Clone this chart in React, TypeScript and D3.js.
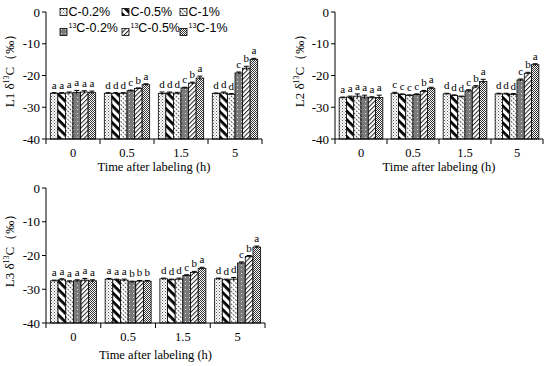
import React from "react";
import * as d3 from "d3";

const times = ["0", "0.5", "1.5", "5"];
const seriesNames = ["C-0.2%", "C-0.5%", "C-1%", "13C-0.2%", "13C-0.5%", "13C-1%"];
const yTicks = [0, -10, -20, -30, -40];

// values[series][time]
const L1 = [
  [-25.6, -25.6, -25.7, -25.7],
  [-25.6, -25.6, -25.5, -25.5],
  [-25.5, -25.6, -25.6, -25.9],
  [-25.3, -24.8, -23.9, -19.2],
  [-25.2, -24.1, -22.4, -17.7],
  [-25.4, -22.9, -20.8, -14.9],
];
const L1err = [
  [0.2, 0.2, 0.5, 0.2],
  [0.2, 0.2, 0.3, 0.3],
  [0.3, 0.2, 0.3, 0.2],
  [0.6, 0.2, 0.2, 0.3],
  [0.4, 0.2, 0.3, 0.6],
  [0.5, 0.3, 0.6, 0.3],
];
const L1letters = [
  ["a", "a", "a", "a", "a", "a"],
  ["d", "d", "d", "c", "b", "a"],
  ["d", "d", "d", "c", "b", "a"],
  ["d", "d", "d", "c", "b", "a"],
];

const L2 = [
  [-27.0, -25.6, -25.8, -25.8],
  [-26.8, -26.0, -26.3, -25.8],
  [-26.5, -26.3, -26.7, -26.0],
  [-26.8, -26.0, -24.8, -21.4],
  [-27.0, -25.0, -23.6, -19.3],
  [-26.9, -24.0, -21.9, -16.6],
];
const L2err = [
  [0.2, 0.3, 0.2, 0.2],
  [0.3, 0.2, 0.2, 0.2],
  [0.7, 0.2, 0.2, 0.3],
  [0.6, 0.2, 0.3, 0.3],
  [0.3, 0.3, 0.4, 0.3],
  [0.7, 0.3, 0.7, 0.3],
];
const L2letters = [
  ["a", "a", "a", "a", "a", "a"],
  ["c", "c", "c", "c", "b", "a"],
  ["d", "d", "d", "c", "b", "a"],
  ["d", "d", "d", "c", "b", "a"],
];

const L3 = [
  [-27.5, -27.0, -26.9, -26.9],
  [-27.2, -27.2, -27.2, -27.2],
  [-27.8, -27.3, -27.0, -27.0],
  [-27.5, -27.8, -25.9, -22.2],
  [-27.3, -27.6, -25.0, -20.3],
  [-27.5, -27.6, -23.8, -17.5],
];
const L3err = [
  [0.2, 0.2, 0.2, 0.2],
  [0.3, 0.2, 0.2, 0.2],
  [0.3, 0.3, 0.3, 0.5],
  [0.3, 0.2, 0.2, 0.3],
  [0.5, 0.2, 0.3, 0.3],
  [0.3, 0.2, 0.3, 0.3],
];
const L3letters = [
  ["a", "a", "a", "a", "a", "a"],
  ["a", "a", "a", "b", "b", "b"],
  ["d", "d", "d", "c", "b", "a"],
  ["d", "d", "d", "c", "b", "a"],
];

const patIds = ["pDots", "pThick", "pFine", "pGray", "pSlash", "pCheck"];
const SERIF = "'Liberation Serif', 'DejaVu Serif', serif";
const SANS = "'Liberation Sans', 'Open Sans', sans-serif";

function Patterns() {
  return (
    <defs>
      <pattern id="pDots" width="3" height="3" patternUnits="userSpaceOnUse">
        <rect width="3" height="3" fill="#fff" />
        <rect x="0" y="0" width="1" height="1" fill="#555" />
        <rect x="1.5" y="1.5" width="1" height="1" fill="#777" />
      </pattern>
      <pattern id="pThick" width="6" height="6" patternUnits="userSpaceOnUse" patternTransform="rotate(45)">
        <rect width="6" height="6" fill="#fff" />
        <rect x="0" y="0" width="6" height="2.8" fill="#000" />
      </pattern>
      <pattern id="pFine" width="3" height="3" patternUnits="userSpaceOnUse" patternTransform="rotate(45)">
        <rect width="3" height="3" fill="#fff" />
        <rect x="0" y="0" width="2" height="0.9" fill="#444" />
      </pattern>
      <pattern id="pGray" width="4" height="4" patternUnits="userSpaceOnUse">
        <rect width="4" height="4" fill="#7a7a7a" />
        <rect x="1" y="1" width="1" height="1" fill="#ddd" />
      </pattern>
      <pattern id="pSlash" width="3.2" height="3.2" patternUnits="userSpaceOnUse" patternTransform="rotate(-45)">
        <rect width="3.2" height="3.2" fill="#fff" />
        <rect x="0" y="0" width="3.2" height="1" fill="#222" />
      </pattern>
      <pattern id="pCheck" width="2" height="2" patternUnits="userSpaceOnUse">
        <rect width="2" height="2" fill="#fff" />
        <rect x="0" y="0" width="1" height="1" fill="#333" />
        <rect x="1" y="1" width="1" height="1" fill="#333" />
      </pattern>
    </defs>
  );
}

type PanelProps = {
  x0: number; x1: number; y0: number; y1: number;
  values: number[][]; errs: number[][]; letters: string[][];
  label: string; labelX: number; tickY: number; titleY: number;
};

function Panel({ x0, x1, y0, y1, values, errs, letters, label, labelX, tickY, titleY }: PanelProps) {
  const y = d3.scaleLinear().domain([-40, 0]).range([y1, y0]);
  const gx = d3.scaleBand<string>().domain(times).range([x0, x1]).paddingInner(0).paddingOuter(0);
  const bw = gx.bandwidth();
  const inset = bw * 0.08;
  const sx = d3.scaleBand<number>().domain(d3.range(seriesNames.length)).range([inset, bw - inset]).padding(0);
  const w = sx.bandwidth();
  const bars: any[] = [];
  const errEls: any[] = [];
  const lets: any[] = [];
  times.forEach((t, ti) => {
    seriesNames.forEach((s, si) => {
      const v = values[si][ti];
      const e = errs[si][ti];
      const bx = (gx(t) as number) + (sx(si) as number);
      bars.push(
        <rect key={`b${ti}-${si}`} x={bx} y={y(v)} width={w} height={y(-40) - y(v)}
          fill={`url(#${patIds[si]})`} stroke="#000" strokeWidth={0.8} />
      );
      const cx = bx + w / 2;
      errEls.push(
        <g key={`e${ti}-${si}`} stroke="#000" strokeWidth={1}>
          <line x1={cx} x2={cx} y1={y(v - e)} y2={y(v + e)} />
          <line x1={cx - 2.5} x2={cx + 2.5} y1={y(v + e)} y2={y(v + e)} />
        </g>
      );
      lets.push(
        <text key={`l${ti}-${si}`} x={cx} y={y(v + e) - 4} textAnchor="middle"
          fontFamily={SERIF} fontSize={11} fill="#000">{letters[ti][si]}</text>
      );
    });
  });
  const yc = (y0 + y1) / 2;
  return (
    <g>
      {bars}
      {errEls}
      {lets}
      <line x1={x0} x2={x0} y1={y0} y2={y1} stroke="#000" />
      <line x1={x0} x2={x1} y1={y1} y2={y1} stroke="#000" />
      {yTicks.map((t) => (
        <g key={`yt${t}`}>
          <line x1={x0 - 4} x2={x0} y1={y(t)} y2={y(t)} stroke="#000" />
          <text x={x0 - 6} y={y(t)} dy="0.35em" textAnchor="end" fontFamily={SERIF} fontSize={13}>{t}</text>
        </g>
      ))}
      {times.concat(["end"]).map((t, i) => {
        const xx = i < times.length ? (gx(t) as number) : x1;
        return <line key={`xt${i}`} x1={xx} x2={xx} y1={y1} y2={y1 + 5} stroke="#000" />;
      })}
      {times.map((t) => (
        <text key={`xl${t}`} x={(gx(t) as number) + bw / 2} y={tickY} textAnchor="middle"
          fontFamily={SERIF} fontSize={12.5}>{t}</text>
      ))}
      <text x={(x0 + x1) / 2} y={titleY} textAnchor="middle" fontFamily={SERIF} fontSize={12.5}>
        Time after labeling (h)
      </text>
      <text transform={`translate(${labelX},${yc - 8}) rotate(-90)`} textAnchor="middle"
        fontFamily={SERIF} fontSize={13}>
        {label} δ<tspan fontSize={8} dy={-5}>13</tspan><tspan dy={5}>C（‰）</tspan>
      </text>
    </g>
  );
}

function Legend() {
  const xs = [60, 122, 180];
  const ys = [12, 32];
  return (
    <g>
      {seriesNames.map((s, i) => {
        const col = i % 3;
        const row = Math.floor(i / 3);
        const bx = xs[col];
        const by = ys[row];
        const is13 = s.startsWith("13");
        return (
          <g key={s}>
            <rect x={bx} y={by - 3.5} width={7} height={7} fill={`url(#${patIds[i]})`} stroke="#000" strokeWidth={0.8} />
            <text x={bx + 8.5} y={by} dy="0.35em" fontFamily={SANS} fontSize={12.5}>
              {is13 ? (
                <>
                  <tspan fontSize={7} dy={-4}>13</tspan>
                  <tspan dy={4}>{s.slice(2)}</tspan>
                </>
              ) : s}
            </text>
          </g>
        );
      })}
    </g>
  );
}

export default function App() {
  return (
    <svg width={550} height={366} style={{ position: "absolute", left: 0, top: 0, background: "#fff" }}>
      <Patterns />
      <rect width={550} height={366} fill="#fff" />
      <Panel x0={46} x1={262} y0={12} y1={139} values={L1} errs={L1err} letters={L1letters}
        label="L1" labelX={14} tickY={157} titleY={171} />
      <Panel x0={335} x1={543} y0={12} y1={139} values={L2} errs={L2err} letters={L2letters}
        label="L2" labelX={304} tickY={157} titleY={171} />
      <Panel x0={46} x1={265} y0={188} y1={323} values={L3} errs={L3err} letters={L3letters}
        label="L3" labelX={14} tickY={341} titleY={359} />
      <Legend />
    </svg>
  );
}
